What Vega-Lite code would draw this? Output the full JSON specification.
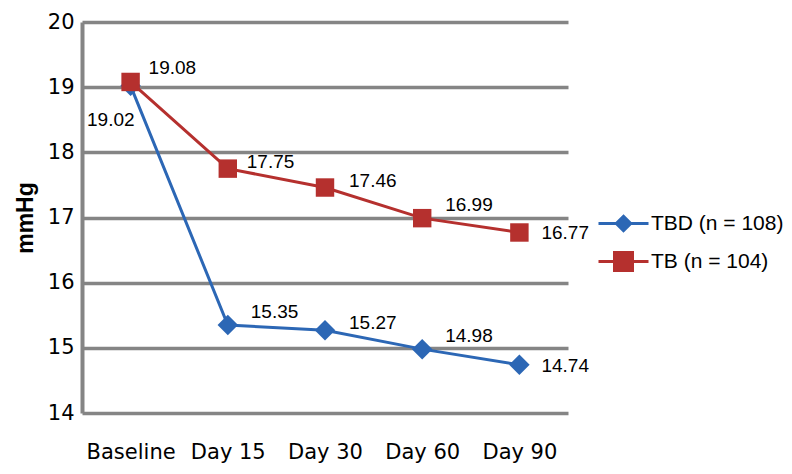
{
  "$schema": "https://vega.github.io/schema/vega-lite/v6.json",
  "width": 486,
  "height": 391,
  "autosize": "none",
  "padding": {"left": 82, "top": 22, "right": 224, "bottom": 61},
  "background": "white",
  "config": {"view": {"stroke": null}},
  "data": {
    "values": [
      {"day": "Baseline", "group": "TBD (n = 108)", "value": 19.02},
      {"day": "Day 15", "group": "TBD (n = 108)", "value": 15.35},
      {"day": "Day 30", "group": "TBD (n = 108)", "value": 15.27},
      {"day": "Day 60", "group": "TBD (n = 108)", "value": 14.98},
      {"day": "Day 90", "group": "TBD (n = 108)", "value": 14.74},
      {"day": "Baseline", "group": "TB (n = 104)", "value": 19.08},
      {"day": "Day 15", "group": "TB (n = 104)", "value": 17.75},
      {"day": "Day 30", "group": "TB (n = 104)", "value": 17.46},
      {"day": "Day 60", "group": "TB (n = 104)", "value": 16.99},
      {"day": "Day 90", "group": "TB (n = 104)", "value": 16.77}
    ]
  },
  "encoding": {
    "x": {
      "field": "day", "type": "ordinal",
      "sort": ["Baseline", "Day 15", "Day 30", "Day 60", "Day 90"],
      "scale": {"type": "point", "padding": 0.5},
      "axis": {"title": null, "domain": false, "ticks": false, "grid": false, "labelAngle": 0,
               "labelFont": "DejaVu Sans", "labelFontSize": 21, "labelColor": "black", "labelPadding": 28}
    },
    "y": {
      "field": "value", "type": "quantitative",
      "scale": {"domain": [14, 20], "nice": false, "zero": false},
      "axis": {"title": "mmHg", "values": [14, 15, 16, 17, 18, 19, 20], "ticks": false,
               "grid": true, "gridColor": "#858585", "gridWidth": 3.5, "gridOpacity": 1,
               "domain": true, "domainColor": "#858585", "domainWidth": 4,
               "labelFont": "DejaVu Sans", "labelFontSize": 21, "labelColor": "black", "labelPadding": 8,
               "titleFont": "Liberation Sans", "titleFontSize": 23, "titleFontWeight": "bold", "titleColor": "black", "titlePadding": 10}
    }
  },
  "layer": [
    {
      "mark": {"type": "line", "strokeWidth": 3},
      "encoding": {
        "color": {
          "field": "group", "type": "nominal",
          "scale": {"domain": ["TBD (n = 108)", "TB (n = 104)"], "range": ["#2C67B5", "#B5302E"]},
          "legend": {
            "orient": "none", "legendX": 520, "legendY": 180, "title": null,
            "symbolSize": 1600, "symbolStrokeWidth": 3, "symbolType": "stroke",
            "labelFont": "Liberation Sans", "labelFontSize": 21, "labelColor": "black",
            "labelOffset": 6, "rowPadding": 3, "padding": 0,
            "encode": {
              "symbols": {
                "update": {
                  "shape": {"signal": "datum.value === 'TBD (n = 108)' ? 'M-1.25,0H1.25M0,-0.36L0.36,0L0,0.36L-0.36,0Z' : 'M-1.25,0H1.25M-0.45,-0.45H0.45V0.45H-0.45Z'"},
                  "fill": {"signal": "datum.value === 'TBD (n = 108)' ? '#2C67B5' : '#B5302E'"},
                  "stroke": {"signal": "datum.value === 'TBD (n = 108)' ? '#2C67B5' : '#B5302E'"},
                  "strokeWidth": {"value": 3},
                  "opacity": {"value": 1}
                }
              }
            }
          }
        }
      }
    },
    {
      "transform": [{"filter": {"field": "group", "equal": "TBD (n = 108)"}}],
      "mark": {"type": "point", "filled": true, "opacity": 1, "shape": "diamond", "size": 420, "color": "#2C67B5"}
    },
    {
      "transform": [{"filter": {"field": "group", "equal": "TB (n = 104)"}}],
      "mark": {"type": "point", "filled": true, "opacity": 1, "shape": "square", "size": 340, "color": "#B5302E"}
    },
    {
      "transform": [{"filter": {"field": "value", "oneOf": [19.08]}}],
      "mark": {"type": "text", "align": "left", "baseline": "middle", "dx": 18, "dy": -14, "font": "Liberation Sans", "fontSize": 19, "color": "black"},
      "encoding": {"text": {"field": "value", "type": "quantitative", "format": ".2f"}}
    },
    {
      "transform": [{"filter": {"field": "value", "oneOf": [16.99, 14.98, 15.35]}}],
      "mark": {"type": "text", "align": "left", "baseline": "middle", "dx": 23, "dy": -13, "font": "Liberation Sans", "fontSize": 19, "color": "black"},
      "encoding": {"text": {"field": "value", "type": "quantitative", "format": ".2f"}}
    },
    {
      "transform": [{"filter": {"field": "value", "oneOf": [17.46, 15.27]}}],
      "mark": {"type": "text", "align": "left", "baseline": "middle", "dx": 24, "dy": -7, "font": "Liberation Sans", "fontSize": 19, "color": "black"},
      "encoding": {"text": {"field": "value", "type": "quantitative", "format": ".2f"}}
    },
    {
      "transform": [{"filter": {"field": "value", "oneOf": [17.75]}}],
      "mark": {"type": "text", "align": "left", "baseline": "middle", "dx": 19, "dy": -7, "font": "Liberation Sans", "fontSize": 19, "color": "black"},
      "encoding": {"text": {"field": "value", "type": "quantitative", "format": ".2f"}}
    },
    {
      "transform": [{"filter": {"field": "value", "oneOf": [16.77, 14.74]}}],
      "mark": {"type": "text", "align": "left", "baseline": "middle", "dx": 22, "dy": 1, "font": "Liberation Sans", "fontSize": 19, "color": "black"},
      "encoding": {"text": {"field": "value", "type": "quantitative", "format": ".2f"}}
    },
    {
      "transform": [{"filter": {"field": "value", "oneOf": [19.02]}}],
      "mark": {"type": "text", "align": "right", "baseline": "middle", "dx": 4, "dy": 34, "font": "Liberation Sans", "fontSize": 19, "color": "black"},
      "encoding": {"text": {"field": "value", "type": "quantitative", "format": ".2f"}}
    }
  ]
}
